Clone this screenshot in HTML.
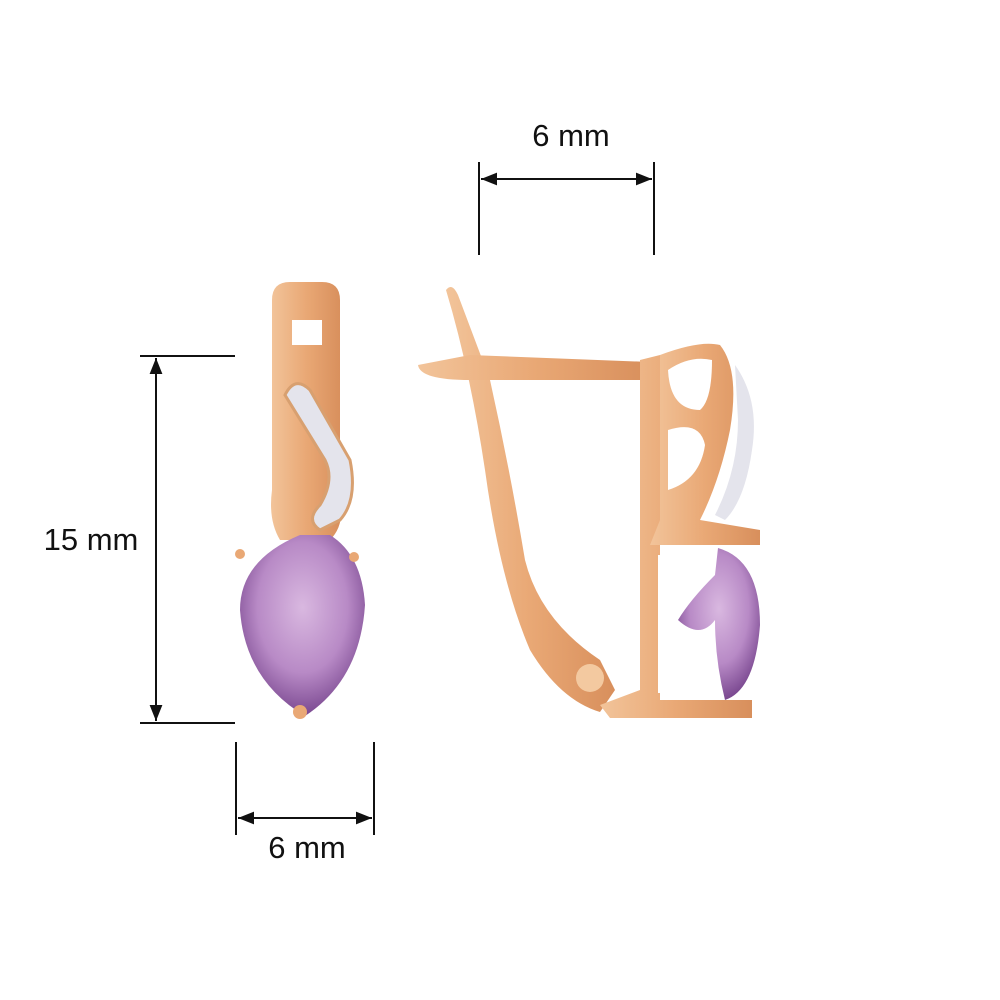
<!DOCTYPE html>
<html><head><meta charset="utf-8"><style>
html,body{margin:0;padding:0;background:#fff;}
svg{display:block}
text{font-family:"Liberation Sans",sans-serif;font-size:31px;fill:#111}
</style></head><body>
<svg width="1000" height="1000" viewBox="0 0 1000 1000">
<defs>
<linearGradient id="g" x1="0" x2="1"><stop offset="0" stop-color="#f2c49a"/><stop offset="0.5" stop-color="#e9a875"/><stop offset="1" stop-color="#d88f5c"/></linearGradient>
<radialGradient id="p" cx="0.5" cy="0.4" r="0.6"><stop offset="0" stop-color="#d9b8e0"/><stop offset="0.6" stop-color="#b88ac6"/><stop offset="1" stop-color="#7a4890"/></radialGradient>
<marker id="a" viewBox="0 0 10 10" refX="10" refY="5" markerWidth="8" markerHeight="8" orient="auto-start-reverse"><path d="M0,1 L10,5 L0,9 z" fill="#111"/></marker>
</defs>
<g stroke="#111" stroke-width="2" fill="none">
<line x1="479" y1="162" x2="479" y2="255"/><line x1="654" y1="162" x2="654" y2="255"/>
<line x1="481" y1="179" x2="652" y2="179" marker-start="url(#a)" marker-end="url(#a)"/>
<line x1="140" y1="356" x2="235" y2="356"/><line x1="140" y1="723" x2="235" y2="723"/>
<line x1="156" y1="358" x2="156" y2="721" marker-start="url(#a)" marker-end="url(#a)"/>
<line x1="236" y1="742" x2="236" y2="835"/><line x1="374" y1="742" x2="374" y2="835"/>
<line x1="238" y1="818" x2="372" y2="818" marker-start="url(#a)" marker-end="url(#a)"/>
</g>
<text x="571" y="146" text-anchor="middle">6 mm</text>
<text x="91" y="550" text-anchor="middle">15 mm</text>
<text x="307" y="858" text-anchor="middle">6 mm</text>
<!-- front earring -->
<path d="M272,300 Q272,282 290,282 L322,282 Q340,282 340,300 L340,500 Q345,525 330,540 L280,540 Q268,520 272,490 Z" fill="url(#g)"/>
<rect x="292" y="320" width="30" height="25" fill="#fff"/>
<path d="M285,395 Q295,375 310,390 L350,460 Q358,500 340,520 L320,530 Q305,520 320,505 Q335,480 325,460 Z" fill="#e4e4ec" stroke="#d8a070" stroke-width="3"/>
<path d="M300,535 Q240,560 240,610 Q245,680 305,716 Q360,680 365,605 Q362,555 330,535 Z" fill="url(#p)"/>
<circle cx="240" cy="554" r="5" fill="#e9a875"/><circle cx="354" cy="557" r="5" fill="#e9a875"/><circle cx="300" cy="712" r="7" fill="#e9a875"/>
<!-- side earring -->
<path d="M446,290 Q452,282 458,295 L490,380 Q510,470 525,560 Q540,620 600,660 L615,690 L600,712 Q560,700 530,650 Q500,580 485,470 Q470,370 446,290 Z" fill="url(#g)"/>
<path d="M418,365 L470,355 L650,362 L650,380 L470,380 Q420,380 418,365 Z" fill="url(#g)"/>
<circle cx="590" cy="678" r="14" fill="#f3c9a0"/>
<path d="M640,360 L660,355 L660,700 L752,700 L752,718 L610,718 L600,705 L640,690 Z" fill="url(#g)"/>
<path d="M660,355 Q700,340 720,345 Q740,370 730,430 Q720,480 700,520 L760,530 L760,545 L650,545 L660,520 Z" fill="url(#g)"/>
<path d="M668,370 Q690,355 712,360 Q712,400 700,410 Q670,410 668,370 Z" fill="#fff"/>
<path d="M668,430 Q700,420 705,445 Q700,480 668,490 Z" fill="#fff"/>
<path d="M735,365 Q760,400 752,450 Q745,500 725,520 L715,515 Q738,470 738,420 Z" fill="#e4e4ec"/>
<rect x="658" y="555" width="62" height="138" fill="#fff"/>
<path d="M718,548 Q760,560 760,625 Q755,690 725,700 Q715,660 715,620 Q700,640 678,620 Q690,600 715,575 Z" fill="url(#p)"/>
</svg>
</body></html>
